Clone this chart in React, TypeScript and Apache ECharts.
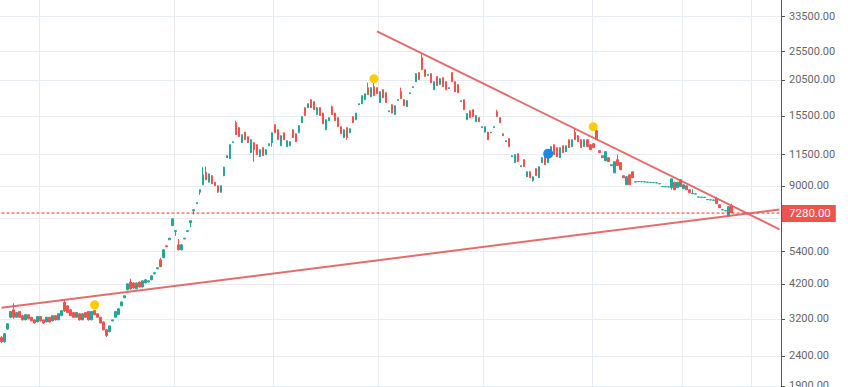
import React, { useEffect, useRef } from "react";
import * as echarts from "echarts";

// Candles: [open, close, low, high]
const candles: number[][] = [
  [2770, 2680, 2650, 2800], [2680, 2850, 2660, 2870], [2960, 3080, 2940, 3090], [3240, 3390, 3220, 3400],
  [3435, 3240, 3200, 3610], [3240, 3360, 3230, 3380], [3390, 3240, 3230, 3400], [3280, 3175, 3160, 3300],
  [3175, 3305, 3170, 3320], [3305, 3200, 3190, 3310], [3240, 3150, 3140, 3250], [3175, 3100, 3090, 3190],
  [3125, 3260, 3120, 3270], [3260, 3150, 3140, 3270], [3175, 3100, 3080, 3180], [3125, 3240, 3120, 3250],
  [3240, 3125, 3110, 3250], [3150, 3280, 3140, 3290], [3280, 3175, 3160, 3290], [3175, 3330, 3170, 3340],
  [3280, 3410, 3270, 3420], [3640, 3400, 3380, 3720], [3540, 3360, 3350, 3560], [3435, 3280, 3270, 3450],
  [3360, 3240, 3230, 3370], [3240, 3360, 3230, 3370], [3330, 3175, 3160, 3340], [3175, 3330, 3170, 3340],
  [3360, 3240, 3230, 3370], [3390, 3175, 3160, 3400], [3175, 3390, 3170, 3400], [3410, 3305, 3290, 3430],
  [3330, 3240, 3220, 3340], [3240, 3100, 3090, 3250], [3125, 2940, 2930, 3140], [2940, 2810, 2780, 2950],
  [2900, 3030, 2880, 3040], [3150, 3175, 3140, 3180], [3240, 3390, 3230, 3400], [3305, 3460, 3300, 3470],
  [3540, 3650, 3530, 3660], [3770, 3830, 3760, 3840], [4010, 4200, 4000, 4210], [4260, 4040, 4020, 4370],
  [4230, 4070, 4050, 4250], [4040, 4230, 4030, 4240], [4260, 4100, 4090, 4280], [4100, 4300, 4090, 4310],
  [4230, 4335, 4220, 4350], [4260, 4300, 4250, 4310], [4335, 4470, 4320, 4480], [4540, 4580, 4530, 4590],
  [4720, 4760, 4710, 4770], [5065, 4800, 4790, 5145], [5145, 5470, 5130, 5490], [5645, 5600, 5590, 5660],
  [5915, 5990, 5900, 6000], [6600, 6960, 6590, 6980], [6310, 6350, 6100, 6360], [5690, 5470, 5450, 5950],
  [5470, 5690, 5460, 5700], [5950, 5990, 5940, 6000], [6310, 6350, 6300, 6360], [6750, 6860, 6520, 6870],
  [7410, 7470, 7200, 7480], [7830, 7890, 7820, 7900], [8560, 8725, 8390, 8740], [9070, 9800, 9050, 10400],
  [10000, 9430, 9400, 10450], [9250, 9870, 9230, 9900], [9730, 9140, 9120, 9760], [9250, 9000, 8980, 9270],
  [9000, 8560, 8540, 9020], [8560, 9000, 8540, 9020], [9730, 10400, 9700, 10430], [11190, 11370, 11180, 11390],
  [11110, 12380, 11090, 12400], [12580, 12670, 12570, 12680], [14690, 13380, 13350, 14920], [14130, 13180, 13150, 14160],
  [12580, 13380, 12560, 13400], [13650, 12870, 12850, 13680], [13180, 12580, 12560, 13200], [11640, 12870, 11620, 12900],
  [12580, 11910, 10850, 12600], [12380, 11460, 11440, 12400], [11280, 11910, 11260, 11930], [12100, 11370, 11350, 12120],
  [11460, 11910, 11440, 11930], [12280, 12480, 12270, 12490], [12580, 13580, 12190, 13600], [14460, 13580, 13560, 14500],
  [13910, 12870, 12850, 13940], [12280, 13280, 12260, 13300], [13580, 12870, 12850, 13600], [12190, 12770, 12170, 12790],
  [12280, 12670, 12260, 12690], [13910, 13080, 13060, 13940], [13480, 12670, 12650, 13500], [13580, 14350, 13560, 14380],
  [14690, 15400, 14670, 15430], [16500, 15520, 15500, 16530], [16500, 17020, 16480, 17050], [17560, 16500, 16480, 17600],
  [17300, 16250, 16230, 17330], [15630, 16500, 15610, 16530], [16500, 15520, 15500, 16530], [15830, 14570, 14550, 15860],
  [13910, 15030, 13890, 15060], [14920, 15270, 14900, 15290], [16630, 15630, 15610, 16760], [15830, 14920, 14900, 15860],
  [15270, 14240, 14220, 15300], [14240, 13480, 13460, 14270], [13080, 13910, 13060, 13940], [14130, 13080, 12870, 14160],
  [13580, 14020, 13560, 14050], [15400, 14690, 14670, 15430], [15030, 15830, 15010, 15860], [16890, 17020, 16870, 17050],
  [17020, 18110, 17000, 18140], [17560, 18400, 17540, 18430], [19280, 18260, 18240, 20060], [17970, 19280, 17950, 19310],
  [19430, 18110, 18090, 20300], [19280, 18400, 18380, 19310], [17160, 18680, 17140, 18710], [18980, 17830, 17810, 19010],
  [18540, 17160, 17140, 18570], [16000, 16120, 15980, 16140], [16890, 15830, 15810, 16920], [15630, 16760, 15610, 16790],
  [17430, 17560, 17410, 17580], [18680, 17700, 17680, 19280], [17560, 16760, 16740, 17590], [16630, 17430, 16610, 17460],
  [18400, 18540, 18380, 18560], [19280, 19430, 19260, 19450], [20200, 21520, 20180, 21550], [21680, 20520, 20500, 21710],
  [24350, 22180, 22150, 25000], [22180, 21030, 21000, 22210], [21190, 21350, 21170, 21370], [21520, 20040, 20020, 21550],
  [18980, 20200, 18960, 20230], [21030, 19590, 19570, 21060], [19740, 20680, 19720, 20710], [20850, 19430, 19410, 20880],
  [20200, 18980, 18960, 20230], [19130, 19280, 19110, 19300], [21680, 20200, 20180, 21710], [20200, 18680, 18660, 20230],
  [19740, 18540, 18520, 19770], [17300, 17430, 17280, 17450], [17560, 16250, 16230, 17590], [15030, 15770, 15010, 15800],
  [16120, 15270, 15250, 16150], [16250, 15400, 15380, 16280], [14800, 15520, 14780, 15550], [15270, 14800, 14780, 15300],
  [14130, 14240, 14110, 14260], [13650, 14240, 13630, 14270], [13650, 12870, 12850, 13680], [13580, 13650, 13560, 13670],
  [14130, 14240, 14110, 14260], [16000, 15400, 15380, 16250], [15270, 14690, 14670, 15300], [13480, 13280, 13260, 13500],
  [12670, 12770, 12650, 12790], [12980, 12190, 12170, 13010], [11280, 11370, 11260, 11390], [10770, 11460, 10750, 11490],
  [11550, 10850, 10830, 11580], [10430, 10520, 10410, 10540], [11020, 10430, 10410, 11050], [9650, 10030, 9630, 10060],
  [10030, 9580, 9560, 10060], [9360, 9650, 9290, 9680], [10280, 9730, 9710, 10310], [9580, 10430, 9560, 10460],
  [10770, 11190, 10750, 11220], [11460, 10600, 10580, 11490], [10770, 11640, 10750, 11670], [11460, 12190, 11440, 12220],
  [12380, 11460, 11440, 12410], [12100, 11280, 11260, 12130], [11190, 12100, 11170, 12130], [12280, 11640, 11620, 12310],
  [11730, 12280, 11710, 12310], [12870, 12100, 12080, 12900], [12190, 12870, 12170, 12900], [13650, 12870, 12850, 14020],
  [13280, 12670, 12650, 13310], [12870, 12100, 12080, 12900], [12190, 12870, 12170, 12900], [12870, 12190, 12170, 12900],
  [12380, 11910, 11890, 12410], [12480, 12100, 12080, 12510], [13800, 12870, 12850, 14020], [11820, 11640, 11620, 11840],
  [11370, 11190, 11170, 11390], [10930, 11730, 10910, 11760], [11190, 10850, 10830, 11220], [10520, 10600, 10500, 10620],
  [9950, 10850, 9930, 10880], [11020, 10520, 10500, 11460], [10770, 10190, 10170, 10800], [9730, 9580, 9560, 9750],
  [9070, 9650, 9050, 9680], [9800, 9070, 9050, 9830], [10030, 9580, 9560, 10060], [9260, 9290, 9250, 9300],
  [9290, 9300, 9280, 9310], [9280, 9290, 9270, 9300], [9270, 9280, 9260, 9290], [9250, 9260, 9240, 9270],
  [9230, 9240, 9220, 9250], [9220, 9230, 9210, 9240], [9200, 9210, 9190, 9220], [9140, 9150, 9130, 9160],
  [8940, 8950, 8930, 8960], [8930, 8940, 8920, 8950], [8920, 8930, 8910, 8940], [8870, 9500, 8725, 9520],
  [9250, 8725, 8700, 9280], [8870, 9250, 8850, 9280], [9430, 8940, 8920, 9460], [8800, 9070, 8780, 9100],
  [9000, 8725, 8700, 9030], [8725, 8520, 8500, 8750], [8460, 8490, 8450, 8760], [8440, 8460, 8430, 8470],
  [8240, 8250, 8230, 8260], [8230, 8240, 8220, 8250], [8220, 8230, 8210, 8240], [8080, 8090, 8070, 8100],
  [8060, 8070, 8050, 8080], [8040, 8060, 8030, 8070], [8150, 7830, 7810, 8250], [7765, 7590, 7570, 7780],
  [7460, 7470, 7450, 7480], [7400, 7420, 7390, 7430], [7130, 7650, 7080, 7670], [7700, 7300, 7280, 7830],
];

const categoryCount = 260;
const priceTicks = [33500, 25500, 20500, 15500, 11500, 9000, 7000, 5400, 4200, 3200, 2400, 1900];
const priceMin = 1885;
const priceMax = 38100;
const lastPrice = 7280;
const verticalGridAt = [13, 58, 91, 126, 161, 197, 227, 250];
// trend lines: [startIndex, startPrice, endIndex, endPrice]
const trendLines = [
  [125, 29880, 259, 6415],
  [0, 3487, 259, 7480],
];
// markers: [index, price]
const yellowDots = [[31.2, 3570], [123.8, 20680], [197.2, 14240]];
const blueDots = [[181.5, 11550]];

const UP = "#26a69a";
const DOWN = "#ef5350";
const PRICE_RED = "#ff2a2a";

export default function App() {
  const ref = useRef<HTMLDivElement>(null);
  useEffect(() => {
    if (!ref.current) return;
    const chart = echarts.init(ref.current, undefined, { renderer: "svg" });
    const L = Math.log;
    const cats = Array.from({ length: categoryCount }, (_, i) => String(i));
    const tickLn = priceTicks.map((p) => L(p));
    const vset = new Set(verticalGridAt);
    chart.setOption({
      animation: false,
      grid: { left: 0, right: 67, top: 0, bottom: 0, outerBoundsMode: "none", containLabel: false },
      xAxis: {
        type: "category",
        data: cats,
        boundaryGap: true,
        axisLine: { show: false },
        axisTick: { show: false },
        axisLabel: { show: false },
        splitLine: {
          show: true,
          interval: (i: number) => vset.has(i),
          lineStyle: { color: "#e6ecf2", width: 1 },
        },
      },
      yAxis: {
        type: "value",
        position: "right",
        min: L(priceMin),
        max: L(priceMax),
        axisLine: { show: true, lineStyle: { color: "#555", width: 1 } },
        axisTick: { show: true, length: 4, customValues: tickLn, lineStyle: { color: "#555" } },
        axisLabel: {
          customValues: tickLn,
          formatter: (v: number) => Math.round(Math.exp(v)).toFixed(2),
          color: "#666",
          fontSize: 11,
          fontFamily: "Roboto",
          margin: 8,
        },
        splitLine: { show: true, lineStyle: { color: "#e6ecf2", width: 1 } },
      },
      series: [
        {
          type: "candlestick",
          barWidth: 2,
          data: candles.map((c) => c.map((v) => L(v))),
          itemStyle: {
            color: UP,
            color0: DOWN,
            borderColor: UP,
            borderColor0: DOWN,
            borderWidth: 1,
          },
          markLine: {
            silent: true,
            symbol: "none",
            animation: false,
            lineStyle: { color: "#e25c5c", width: 2, type: "solid", opacity: 0.9 },
            label: { show: false },
            data: trendLines.map((t) => [
              { coord: [t[0], L(t[1])] },
              { coord: [t[2], L(t[3])] },
            ]),
          },
        },
        {
          type: "line",
          data: [
            [0, L(lastPrice)],
            [categoryCount - 1, L(lastPrice)],
          ],
          symbol: "none",
          silent: true,
          lineStyle: { color: PRICE_RED, width: 1, type: [3, 2] },
          itemStyle: { color: PRICE_RED },
          z: 4,
          markLine: {
            silent: true,
            symbol: "none",
            animation: false,
            lineStyle: { color: "rgba(0,0,0,0)", width: 0, type: "solid" },
            label: {
              show: true,
              position: "end",
              distance: 1,
              formatter: () => lastPrice.toFixed(2),
              color: "#fff",
              backgroundColor: DOWN,
              padding: [3, 5, 2, 7],
              fontSize: 11.5,
              fontFamily: "Roboto",
            },
            data: [{ yAxis: L(lastPrice) }],
          },
        },
        {
          type: "scatter",
          symbolSize: 9,
          data: yellowDots.map((d) => [d[0], L(d[1])]),
          itemStyle: { color: "#ffcc00", opacity: 1 },
          z: 5,
        },
        {
          type: "scatter",
          symbolSize: 10,
          data: blueDots.map((d) => [d[0], L(d[1])]),
          itemStyle: { color: "#1e88e5", opacity: 1 },
          z: 5,
        },
      ],
    });
    return () => chart.dispose();
  }, []);
  return (
    <div
      ref={ref}
      style={{ position: "fixed", left: 0, top: 0, width: 848, height: 387, background: "#fff" }}
    />
  );
}
